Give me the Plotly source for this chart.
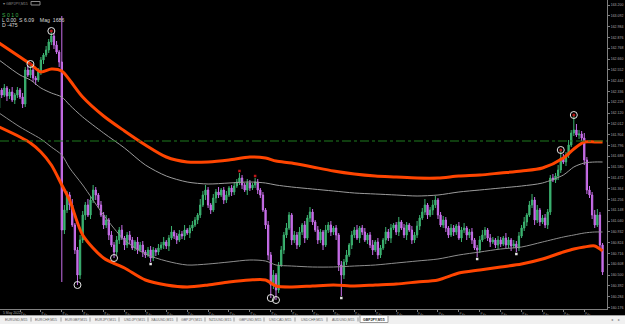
import plotly.graph_objects as go

# ---------------- data (GBPJPY M15, prices) ----------------
first_open = 162.17
closes = [
    162.35, 162.30, 162.37, 162.29, 162.33, 162.25, 162.30, 162.35, 162.28, 162.21,
    162.55, 162.50, 162.55, 162.47, 162.45, 162.53, 162.65, 162.70, 162.75, 162.83,
    162.89, 162.80, 162.73, 162.63, 160.95, 161.15, 161.30, 161.20, 161.00, 160.75,
    160.50, 160.85, 161.10, 161.20, 161.10, 161.25, 161.35, 161.30, 161.20, 161.10,
    161.00, 161.05, 160.90, 160.80, 160.73, 160.85, 160.95, 160.87, 160.80, 160.90,
    160.85, 160.77, 160.83, 160.75, 160.80, 160.73, 160.70, 160.75, 160.67, 160.75,
    160.73, 160.77, 160.80, 160.83, 160.79, 160.87, 160.93, 160.89, 160.85, 160.91,
    160.89, 160.95, 160.92, 160.97, 161.00, 161.05, 161.10, 161.20, 161.30, 161.35,
    161.20, 161.15, 161.27, 161.33, 161.30, 161.35, 161.25, 161.30, 161.37, 161.33,
    161.39, 161.43, 161.47, 161.40, 161.35, 161.42, 161.37, 161.40, 161.43, 161.35,
    161.30, 161.15, 161.00, 160.70, 160.40, 160.50, 160.35, 160.60, 160.75, 160.90,
    160.97, 161.10, 160.85, 160.90, 160.80, 160.93, 161.00, 160.87, 161.07, 161.13,
    161.03, 160.95, 160.85, 160.93, 160.80, 160.95, 161.00, 160.93, 160.97, 160.90,
    160.60, 160.50, 160.63, 160.70, 160.80, 160.90, 160.95, 160.87, 160.97, 160.93,
    160.85, 160.90, 160.80, 160.75, 160.83, 160.70, 160.77, 160.85, 160.93, 160.87,
    160.97, 161.00, 160.93, 161.03, 160.97, 160.90, 161.00, 160.95, 160.85, 160.90,
    160.99, 161.07, 161.13, 161.20, 161.10, 161.15, 161.20, 161.25, 161.10, 161.00,
    161.05, 160.97, 160.90, 160.97, 160.93, 160.99, 160.87, 160.95, 160.97, 160.90,
    160.93, 160.85, 160.77, 160.75, 160.85, 160.90, 160.95, 160.87, 160.83, 160.85,
    160.80, 160.85, 160.81, 160.87, 160.80, 160.85, 160.79, 160.81, 160.77, 160.89,
    160.97, 161.03, 161.10, 161.20, 161.25, 161.05, 161.15, 161.03, 161.07, 161.00,
    161.13, 161.47, 161.45, 161.49, 161.55, 161.67, 161.63, 161.70, 161.80, 161.92,
    161.95, 161.90, 161.91, 161.87, 161.65, 161.35, 161.30, 161.10, 161.00, 161.10,
    160.80, 160.53,
]
# wick lengths in points (0.01 JPY)
wick_up = [
    3, 2, 4, 2, 3, 5, 2, 3, 2, 4, 3, 5, 6, 3, 2, 4, 3, 2, 4, 3,
    5, 3, 4, 2, 46, 5, 4, 3, 6, 2, 3, 5, 4, 3, 6, 4, 5, 3, 2, 4,
    3, 5, 2, 4, 3, 4, 3, 5, 2, 3, 4, 3, 2, 5, 3, 4, 2, 3, 4, 3,
    2, 4, 3, 5, 2, 3, 6, 2, 3, 4, 3, 5, 2, 3, 4, 3, 2, 6, 4, 5,
    3, 2, 4, 3, 5, 2, 3, 4, 2, 3, 4, 3, 5, 3, 2, 4, 3, 2, 4, 3,
    2, 3, 2, 4, 3, 5, 2, 3, 4, 3, 5, 3, 2, 4, 3, 5, 2, 4, 3, 5,
    3, 2, 4, 3, 2, 5, 3, 4, 2, 3, 2, 4, 3, 5, 2, 4, 3, 5, 2, 3,
    4, 2, 3, 5, 2, 4, 3, 2, 5, 3, 4, 2, 3, 5, 2, 4, 3, 2, 4, 3,
    5, 3, 4, 6, 2, 3, 5, 4, 2, 3, 4, 3, 2, 4, 3, 2, 4, 3, 5, 2,
    3, 4, 2, 3, 4, 5, 3, 2, 4, 3, 2, 4, 3, 2, 5, 3, 2, 4, 3, 4,
    3, 5, 2, 4, 6, 3, 5, 2, 3, 4, 3, 3, 4, 3, 5, 8, 4, 3, 5, 3,
    15, 6, 4, 3, 5, 3, 4, 3, 5, 6, 3, 2,
]
wick_dn = [
    4, 3, 2, 5, 3, 2, 4, 3, 2, 4, 3, 2, 3, 4, 5, 2, 3, 4, 2, 3,
    3, 4, 2, 5, 52, 4, 3, 5, 2, 4, 10, 4, 3, 5, 2, 4, 3, 5, 3, 2,
    4, 3, 5, 2, 6, 3, 4, 2, 5, 3, 4, 2, 3, 4, 2, 5, 3, 2, 4, 3,
    4, 3, 2, 4, 3, 5, 2, 3, 4, 2, 3, 4, 2, 5, 3, 2, 4, 3, 2, 5,
    3, 4, 2, 5, 3, 2, 4, 3, 2, 4, 3, 2, 3, 4, 2, 5, 3, 2, 3, 4,
    3, 2, 4, 5, 13, 4, 10, 3, 2, 4, 3, 2, 5, 3, 4, 2, 3, 5, 2, 4,
    3, 2, 4, 3, 5, 2, 3, 4, 3, 5, 6, 21, 4, 3, 2, 4, 3, 2, 5, 3,
    2, 4, 3, 5, 2, 4, 3, 2, 4, 3, 5, 2, 3, 4, 2, 3, 5, 2, 4, 3,
    3, 4, 2, 3, 4, 2, 5, 3, 4, 2, 3, 4, 3, 2, 4, 3, 2, 4, 3, 5,
    3, 4, 2, 7, 3, 2, 4, 3, 5, 2, 3, 4, 3, 2, 4, 3, 5, 2, 4, 3,
    2, 3, 4, 2, 3, 5, 3, 4, 2, 3, 4, 3, 2, 3, 4, 3, 2, 4, 3, 2,
    3, 2, 4, 3, 5, 4, 3, 4, 3, 2, 5, 3,
]

# envelope bands, sampled at bar indices
band_idx = [0, 8, 12, 16, 20, 24, 27, 32, 40, 48, 56, 64, 72, 80, 88, 96, 102, 106,
            112, 120, 128, 136, 144, 152, 160, 168, 176, 184, 192, 200, 208, 216,
            220, 224, 228, 231]
upper_band = [162.82, 162.68, 162.61, 162.53, 162.56, 162.54, 162.45, 162.28, 162.09,
              161.94, 161.80, 161.68, 161.63, 161.63, 161.65, 161.68, 161.67, 161.64,
              161.62, 161.58, 161.54, 161.51, 161.49, 161.48, 161.47, 161.47, 161.49,
              161.50, 161.52, 161.54, 161.57, 161.67, 161.76, 161.83, 161.83, 161.83]
upper_mid = [162.65, 162.50, 162.45, 162.37, 162.32, 162.28, 162.20, 162.08, 161.92,
             161.77, 161.60, 161.49, 161.43, 161.41, 161.42, 161.43, 161.42, 161.40,
             161.38, 161.36, 161.34, 161.32, 161.31, 161.30, 161.29, 161.30, 161.33,
             161.35, 161.37, 161.39, 161.42, 161.50, 161.58, 161.62, 161.63, 161.63]
lower_mid = [162.12, 161.98, 161.92, 161.86, 161.78, 161.70, 161.57, 161.40, 161.10,
             160.85, 160.71, 160.64, 160.60, 160.61, 160.63, 160.65, 160.64, 160.60,
             160.59, 160.58, 160.58, 160.59, 160.60, 160.62, 160.64, 160.66, 160.70,
             160.73, 160.76, 160.78, 160.83, 160.88, 160.90, 160.92, 160.93, 160.93]
lower_band = [161.98, 161.88, 161.82, 161.73, 161.60, 161.40, 161.25, 160.90, 160.67,
              160.57, 160.45, 160.40, 160.38, 160.40, 160.43, 160.45, 160.45, 160.39,
              160.38, 160.39, 160.40, 160.39, 160.40, 160.41, 160.43, 160.45, 160.52,
              160.55, 160.58, 160.61, 160.66, 160.73, 160.76, 160.78, 160.79, 160.74]

level_price = 161.84
top_fractals = [12, 20, 215, 220]
bottom_fractals = [30, 44, 104, 106]
top_marks = [92, 98]
bottom_marks = [58, 131, 183, 198]

time_tick_bars = [8, 16, 24, 32, 40, 48, 56, 64, 72, 80, 88, 96, 104, 112, 120, 128,
                  136, 144, 152, 160, 168, 176, 184, 192, 200, 208, 216, 224]
time_labels = ["5 May 10:00", "5 May 12:00", "5 May 14:00", "5 May 16:00", "5 May 18:00",
               "5 May 20:00", "5 May 22:00", "6 May 00:00", "6 May 02:00", "6 May 04:00",
               "6 May 06:00", "6 May 08:00", "6 May 10:00", "6 May 12:00", "6 May 14:00",
               "6 May 16:00", "6 May 18:00", "6 May 20:00", "6 May 22:00", "9 May 00:00",
               "9 May 02:00", "9 May 04:00", "9 May 06:00", "9 May 08:00", "9 May 10:00",
               "9 May 12:00", "9 May 14:00", "9 May 16:00"]
price_ticks = [163.200, 163.092, 162.984, 162.876, 162.768, 162.660, 162.552, 162.444,
               162.336, 162.228, 162.120, 162.012, 161.904, 161.796, 161.688, 161.580,
               161.472, 161.364, 161.256, 161.148, 161.040, 160.932, 160.824, 160.716,
               160.608, 160.500, 160.392, 160.284, 160.176]
tabs = ["EURUSD,M15", "EURCHF,M15", "EURGBP,M15", "EURJPY,M15", "USDJPY,M15",
        "XAUUSD,M15", "GBPJPY,M15", "NZDUSD,M15", "GBPUSD,M15", "USDCAD,M15",
        "USDCHF,M15", "AUDUSD,M15", "GBPJPY,M15"]

# ---------------- build ----------------
opens = [first_open] + closes[:-1]
highs = [round(max(o, c) + w / 100, 3) for o, c, w in zip(opens, closes, wick_up)]
lows = [round(min(o, c) - w / 100, 3) for o, c, w in zip(opens, closes, wick_dn)]
bars = list(range(len(closes)))

W, H = 625, 324
FONT = "Liberation Sans"
BULL = "#3CB371"
BEAR = "#C86EEA"

fig = go.Figure()
fig.add_trace(go.Candlestick(
    x=bars, open=opens, high=highs, low=lows, close=closes,
    increasing=dict(line=dict(color=BULL, width=1), fillcolor=BULL),
    decreasing=dict(line=dict(color=BEAR, width=1), fillcolor=BEAR),
    whiskerwidth=0, hoverinfo="skip"))

for ys, col, wd in [(upper_mid, "#9C9C9C", 1), (lower_mid, "#8E8E8E", 1),
                    (upper_band, "#FF4500", 3), (lower_band, "#FF4500", 3)]:
    fig.add_trace(go.Scatter(x=band_idx, y=ys, mode="lines",
                             line=dict(color=col, width=wd, shape="spline", smoothing=0.8),
                             hoverinfo="skip"))

# fractal circles (white ring, red centre on tops)
top_y = [highs[i] for i in top_fractals]
bot_y = [lows[i] for i in bottom_fractals]
fig.add_trace(go.Scatter(x=top_fractals + bottom_fractals, y=top_y + bot_y, mode="markers",
                         marker=dict(symbol="circle-open", size=7, color="#E6E6E6",
                                     line=dict(width=1))))
fig.add_trace(go.Scatter(x=top_fractals, y=top_y, mode="markers",
                         marker=dict(symbol="circle", size=3, color="#B81414")))
fig.add_trace(go.Scatter(x=top_marks, y=[highs[i] + 0.02 for i in top_marks], mode="markers",
                         marker=dict(symbol="square", size=2.5, color="#C01818")))
fig.add_trace(go.Scatter(x=bottom_marks, y=[lows[i] - 0.02 for i in bottom_marks], mode="markers",
                         marker=dict(symbol="square", size=2.5, color="#E8E8E8")))

xd = 607 / W
yd0 = 15 / H
shapes = [
    dict(type="line", xref="paper", yref="y", x0=0, x1=xd, y0=level_price, y1=level_price,
         line=dict(color="#1F7A1F", width=1, dash="dashdot")),
    # tab bar
    dict(type="rect", xref="paper", yref="paper", x0=0, x1=1, y0=0, y1=8.5 / H,
         fillcolor="#F0F0F0", line=dict(width=0), layer="above"),
    dict(type="line", xref="paper", yref="paper", x0=0, x1=1, y0=8.5 / H, y1=8.5 / H,
         line=dict(color="#A0A0A0", width=1), layer="above"),
    dict(type="rect", xref="paper", yref="paper", x0=360 / W, x1=388 / W, y0=1.5 / H, y1=8.5 / H,
         fillcolor="#FFFFFF", line=dict(color="#9A9A9A", width=1), layer="above"),
    # small box near the title
    dict(type="rect", xref="paper", yref="paper", x0=31 / W, x1=40 / W, y0=1 - 5 / H, y1=1 - 1.5 / H,
         line=dict(color="#8A8A8A", width=1)),
]
seps = [31, 61, 90, 119, 148, 177, 205, 234, 264, 295, 327, 358]
for s in seps:
    shapes.append(dict(type="line", xref="paper", yref="paper", x0=s / W, x1=s / W,
                       y0=2.5 / H, y1=6.5 / H, line=dict(color="#9A9A9A", width=1), layer="above"))

ann = []
def txt(x, y, s, size, color, anchor="left", bold=False):
    ann.append(dict(xref="paper", yref="paper", x=x / W, y=1 - y / H, text=("<b>%s</b>" % s) if bold else s,
                    showarrow=False, xanchor=anchor, yanchor="middle",
                    font=dict(family=FONT, size=size, color=color)))

txt(1, 4, "▾ GBPJPY,M15", 3.6, "#8A8A8A")
txt(0, 15, "S 0 1 0", 5.2, "#3FAE4A")
txt(0, 20, "L 0.00  S 6.09    Mag  1686", 5.2, "#D8D8D8")
txt(0, 25, "D -475", 5.2, "#D8D8D8")
txt(1, 313.2, "5 May 2022", 3.4, "#A8A8A8")
tab_centers = [16, 46, 76, 105, 134, 162, 191, 220, 250, 280, 312, 343, 374]
for n, (c, t) in enumerate(zip(tab_centers, tabs)):
    active = n == len(tabs) - 1
    txt(c, 320, t, 3.5, "#202020" if active else "#606060", anchor="center", bold=active)
txt(612, 320, "◂", 3.6, "#808080", anchor="center")
txt(619, 320, "▸", 3.6, "#808080", anchor="center")

fig.update_layout(
    width=W, height=H, margin=dict(l=0, r=0, t=0, b=0), autosize=False,
    paper_bgcolor="#000000", plot_bgcolor="#000000", showlegend=False,
    shapes=shapes, annotations=ann, hovermode=False,
    xaxis=dict(domain=[0, xd], range=[0.345, 232.7], rangeslider=dict(visible=False),
               showgrid=False, zeroline=False, tickvals=time_tick_bars, ticktext=time_labels,
               ticks="outside", ticklen=2, tickcolor="#808080", tickwidth=1,
               ticklabelposition="outside right",
               tickfont=dict(family=FONT, size=3.4, color="#A8A8A8"),
               showline=True, linecolor="#808080", linewidth=1),
    yaxis=dict(domain=[yd0, 1], range=[160.16, 163.25], side="right", showgrid=False,
               zeroline=False, tickvals=price_ticks, ticktext=["%.3f" % p for p in price_ticks],
               ticks="outside", ticklen=2, tickcolor="#808080", tickwidth=1,
               tickfont=dict(family=FONT, size=3.5, color="#A8A8A8"),
               showline=True, linecolor="#808080", linewidth=1),
)

fig.write_html("out.html")
